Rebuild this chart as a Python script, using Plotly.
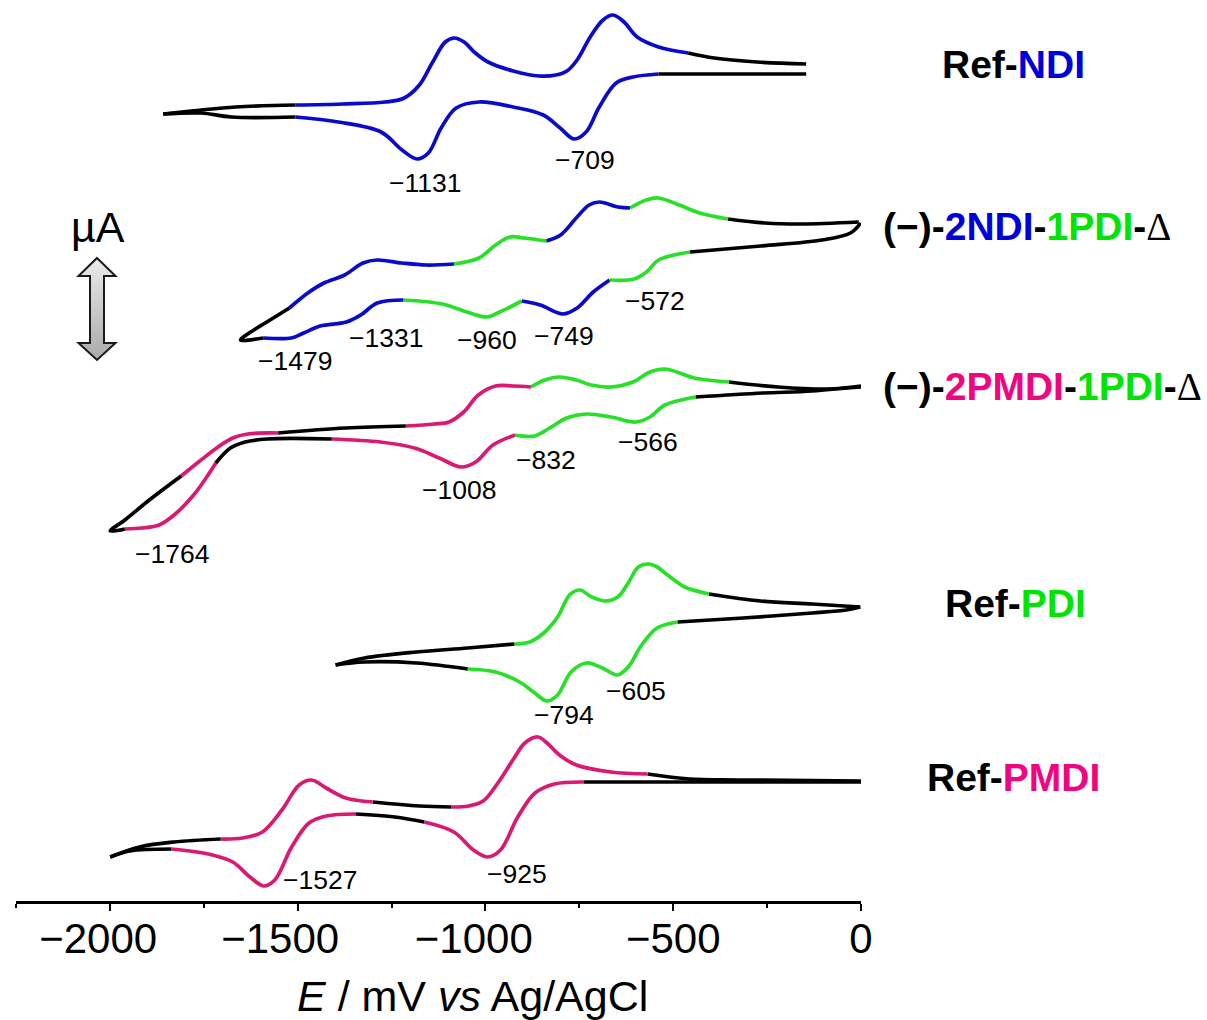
import plotly.graph_objects as go

# Potentials (mV) and stacked current (arbitrary offset units), one sub-list per coloured run
K, B, G, P = "#000000", "#0A0ACD", "#28E028", "#DA1A72"

ref_ndi_colors = [K, B, K, K, B, K]
ref_ndi_E = [
    [-146, -277, -391, -460],
    [-460, -539, -596, -631, -660, -687, -721, -756, -783, -812, -857, -926, -993, -1027, -1057, -1083, -1107, -1142, -1176, -1216, -1267, -1381, -1506],
    [-1506, -1665, -1858],
    [-1858, -1757, -1677, -1506],
    [-1506, -1392, -1278, -1222, -1182, -1152, -1118, -1078, -1017, -926, -846, -801, -764, -732, -697, -652, -607, -539],
    [-539, -146],
]
ref_ndi_I = [
    [838, 840, 844, 849],
    [849, 855, 865, 880, 887, 882, 865, 842, 831, 827, 826, 831, 840, 849, 860, 864, 860, 839, 817, 804, 800, 798, 797],
    [797, 795, 788],
    [788, 789, 785, 785],
    [785, 780, 770, 752, 743, 749, 774, 794, 800, 795, 787, 774, 763, 770, 795, 819, 825, 828],
    [828, 828],
]

ndi_pdi_colors = [K, G, B, G, B, K, B, G, B, G, K]
ndi_pdi_E = [
    [-6, -159, -256, -354],
    [-354, -430, -484, -539, -572, -615],
    [-615, -647, -696, -724, -756, -800, -838],
    [-838, -897, -935, -973, -1017, -1084],
    [-1084, -1158, -1223, -1288, -1326, -1375, -1430, -1473, -1522],
    [-1522, -1582, -1625, -1652, -1592],
    [-1592, -1517, -1484, -1440, -1370, -1332, -1288, -1218],
    [-1218, -1115, -1049, -995, -962, -903],
    [-903, -854, -794, -756, -713, -669],
    [-669, -604, -571, -539, -455],
    [-455, -267, -104, -28, -1],
]
ndi_pdi_I = [
    [680, 678, 679, 683],
    [683, 689, 697, 704, 702, 694],
    [694, 695, 700, 697, 685, 667, 661],
    [661, 664, 665, 657, 644, 638],
    [638, 637, 639, 642, 639, 627, 619, 609, 594],
    [594, 580, 570, 562, 564],
    [564, 564, 569, 576, 580, 587, 599, 602],
    [602, 598, 590, 585, 590, 601],
    [601, 597, 588, 594, 610, 622],
    [622, 623, 630, 642, 650],
    [650, 656, 662, 669, 679],
]

pmdi_pdi_colors = [K, G, P, K, P, K, P, K, P, G, K]
pmdi_pdi_E = [
    [0, -91, -221, -352],
    [-352, -444, -483, -522, -562, -607, -666, -718, -758, -803, -842, -879],
    [-879, -927, -973, -1019, -1058, -1097, -1137, -1212],
    [-1212, -1372, -1552],
    [-1552, -1633, -1673, -1712, -1764, -1810],
    [-1810, -1895, -1960, -1999, -1960],
    [-1960, -1915, -1869, -1829, -1777, -1744, -1718],
    [-1718, -1679, -1640, -1581, -1409],
    [-1409, -1280, -1189, -1123, -1065, -1026, -980, -921],
    [-921, -869, -829, -784, -731, -666, -600, -562, -522, -440],
    [-440, -261, -130, 0],
]
pmdi_pdi_I = [
    [515, 513, 515, 520],
    [520, 524, 529, 533, 530, 520, 515, 517, 522, 525, 522, 515],
    [515, 516, 516, 507, 490, 480, 478, 476],
    [476, 474, 469],
    [469, 468, 464, 455, 440, 426],
    [426, 402, 382, 371, 373],
    [373, 374, 377, 387, 407, 424, 439],
    [439, 454, 460, 463, 463],
    [463, 460, 454, 444, 435, 440, 457, 467],
    [467, 466, 474, 484, 488, 485, 480, 485, 497, 505],
    [505, 509, 511, 516],
]

ref_pdi_colors = [K, G, K, K, G, K]
ref_pdi_E = [
    [-2, -130, -268, -405],
    [-405, -469, -515, -543, -566, -593, -620, -648, -680, -717, -749, -776, -808, -845, -882, -923],
    [-923, -1047, -1184, -1322, -1399],
    [-1399, -1322, -1184, -1047],
    [-1047, -973, -909, -872, -836, -808, -772, -731, -689, -648, -620, -584, -543, -488],
    [-488, -314, -130, -39, -2],
]
ref_pdi_I = [
    [295, 298, 301, 308],
    [308, 315, 327, 335, 338, 335, 319, 305, 301, 305, 312, 307, 285, 269, 260, 258],
    [258, 254, 250, 244, 237],
    [237, 240, 239, 233],
    [233, 230, 220, 210, 201, 207, 230, 239, 234, 227, 235, 257, 274, 280],
    [280, 284, 289, 292, 295],
]

ref_pmdi_colors = [K, P, K, P, K, K, P, K, P, K]
ref_pmdi_E = [
    [0, -326, -457, -568],
    [-568, -666, -758, -803, -836, -860, -895, -927, -967, -1006, -1045, -1091],
    [-1091, -1176, -1300],
    [-1300, -1372, -1424, -1463, -1496, -1542, -1594, -1647, -1705],
    [-1705, -1829, -1921, -1999],
    [-1999, -1947, -1836],
    [-1836, -1738, -1673, -1627, -1590, -1561, -1516, -1470, -1424, -1346],
    [-1346, -1241, -1163],
    [-1163, -1084, -1032, -995, -960, -914, -868, -816, -738],
    [-738, -457, 0],
]
ref_pmdi_I = [
    [121, 122, 123, 128],
    [128, 130, 137, 147, 159, 165, 159, 142, 119, 101, 96, 95],
    [95, 96, 100],
    [100, 104, 114, 122, 117, 92, 70, 64, 63],
    [63, 60, 55, 45],
    [45, 51, 53],
    [53, 48, 40, 25, 16, 22, 55, 79, 86, 88],
    [88, 85, 80],
    [80, 70, 52, 45, 52, 85, 109, 118, 120],
    [120, 120, 120],
]

tick_values = [-2000, -1500, -1000, -500, 0]
tick_labels = ["\u22122000\u00a0\u00a0", "\u22121500\u00a0\u00a0\u00a0", "\u22121000\u00a0\u00a0", "\u2212500", "0"]
minor_ticks = [-2250, -1750, -1250, -750, -250]

# Page geometry
W, H = 1207, 1020
L, R, T, Bm = 16, 861, 0, 901


def fx(px):
    return (px - L) / (R - L)


def fy(py):
    return (Bm - py) / (Bm - T)


fig = go.Figure()
curves = [
    (ref_ndi_E, ref_ndi_I, ref_ndi_colors),
    (ndi_pdi_E, ndi_pdi_I, ndi_pdi_colors),
    (pmdi_pdi_E, pmdi_pdi_I, pmdi_pdi_colors),
    (ref_pdi_E, ref_pdi_I, ref_pdi_colors),
    (ref_pmdi_E, ref_pmdi_I, ref_pmdi_colors),
]
for Es, Is, cols in curves:
    for e, i, c in zip(Es, Is, cols):
        fig.add_trace(go.Scatter(x=e, y=i, mode="lines", hoverinfo="skip", cliponaxis=False,
                                 line=dict(color=c, width=3.7, shape="spline", smoothing=1.0)))

annotations = []


def label(text, px, py, size, anchor="center"):
    annotations.append(dict(text=text, x=fx(px), y=fy(py), xref="paper", yref="paper", showarrow=False,
                            xanchor=anchor, yanchor="middle", align=anchor if anchor != "center" else "center",
                            font=dict(size=size, color="black", family="Liberation Sans")))


peak_labels = [
    ("\u22121131", 425, 183), ("\u2212709", 585, 160),
    ("\u2212572", 655, 301), ("\u2212749", 564, 336), ("\u2212960", 487, 340), ("\u22121331", 386, 338), ("\u22121479", 295, 361),
    ("\u2212566", 648, 442), ("\u2212832", 546, 460), ("\u22121008", 459, 490), ("\u22121764", 172, 554),
    ("\u2212794", 564, 715), ("\u2212605", 636, 691),
    ("\u2212925", 517, 874), ("\u22121527", 320, 880),
]
for t, x, y in peak_labels:
    label(t, x, y, 26.5)

BL, GR, PK = "#0000DC", "#00E400", "#F0047F"


def col(t, c):
    return f'<span style="color:{c}">{t}</span>'


DELTA = '<span style="font-family:\'Liberation Serif\';font-weight:normal">\u0394</span>'
label(f"<b>Ref-{col('NDI', BL)}</b>", 1013, 64, 39)
label(f"<b>(\u2212)-{col('2NDI', BL)}-{col('1PDI', GR)}-</b>{DELTA}", 881, 226, 39, "left")
label(f"<b>(\u2212)-{col('2PMDI', PK)}-{col('1PDI', GR)}-</b>{DELTA}", 881, 387, 39, "left")
label(f"<b>Ref-{col('PDI', GR)}</b>", 1015, 603, 39)
label(f"<b>Ref-{col('PMDI', PK)}</b>", 1013, 777, 39)
label("\u00b5A", 98, 227, 43)
label("<i>E</i> / mV <i>vs</i> Ag/AgCl", 472, 996, 43)

# Double arrow with a vertical grey gradient
shapes = []
cx, top, hb1, hb2, bot = 97, 258, 276, 343, 360
hw_head, hw_shaft = 18.5, 7
for y in range(top, bot):
    if y < hb1:
        hw = hw_head * (y + 0.5 - top) / (hb1 - top)
    elif y >= hb2:
        hw = hw_head * (bot - y - 0.5) / (bot - hb2)
    else:
        hw = hw_shaft
    g = int(236 - 66 * (y - top) / (bot - top))
    shapes.append(dict(type="rect", xref="paper", yref="paper", x0=fx(cx - hw), x1=fx(cx + hw), y0=fy(y), y1=fy(y + 1),
                       fillcolor=f"rgb({g},{g},{g})", line=dict(width=0), layer="above"))
outline = [(cx, top), (cx + hw_head, hb1), (cx + hw_shaft, hb1), (cx + hw_shaft, hb2), (cx + hw_head, hb2), (cx, bot),
           (cx - hw_head, hb2), (cx - hw_shaft, hb2), (cx - hw_shaft, hb1), (cx - hw_head, hb1)]
path = "M " + " L ".join(f"{fx(a):.5f},{fy(b):.5f}" for a, b in outline) + " Z"
shapes.append(dict(type="path", xref="paper", yref="paper", path=path, line=dict(color="#1a1a1a", width=2), layer="above"))

fig.update_layout(
    width=W, height=H, showlegend=False, plot_bgcolor="white", paper_bgcolor="white", hovermode=False,
    margin=dict(l=L, r=W - R, t=T, b=H - Bm, pad=0, autoexpand=False),
    font=dict(family="Liberation Sans", color="black"),
    annotations=annotations, shapes=shapes,
    xaxis=dict(range=[-2250, 0], tickmode="array", tickvals=tick_values, ticktext=tick_labels, ticks="outside",
               ticklen=7, tickwidth=2, tickcolor="black", showline=True, linecolor="black", linewidth=3,
               showgrid=False, zeroline=False, tickfont=dict(size=42, color="black"), automargin=False,
               tickangle=0, ticklabeloverflow="allow", ticklabelstandoff=-8,
               minor=dict(tickmode="array", tickvals=minor_ticks, ticks="outside", ticklen=4, tickwidth=2,
                          tickcolor="black", showgrid=False)),
    yaxis=dict(range=[1, 902], visible=False, showgrid=False, zeroline=False),
)

fig.write_html("out.html", post_script="document.body.style.margin='0';", config=dict(displayModeBar=False))
